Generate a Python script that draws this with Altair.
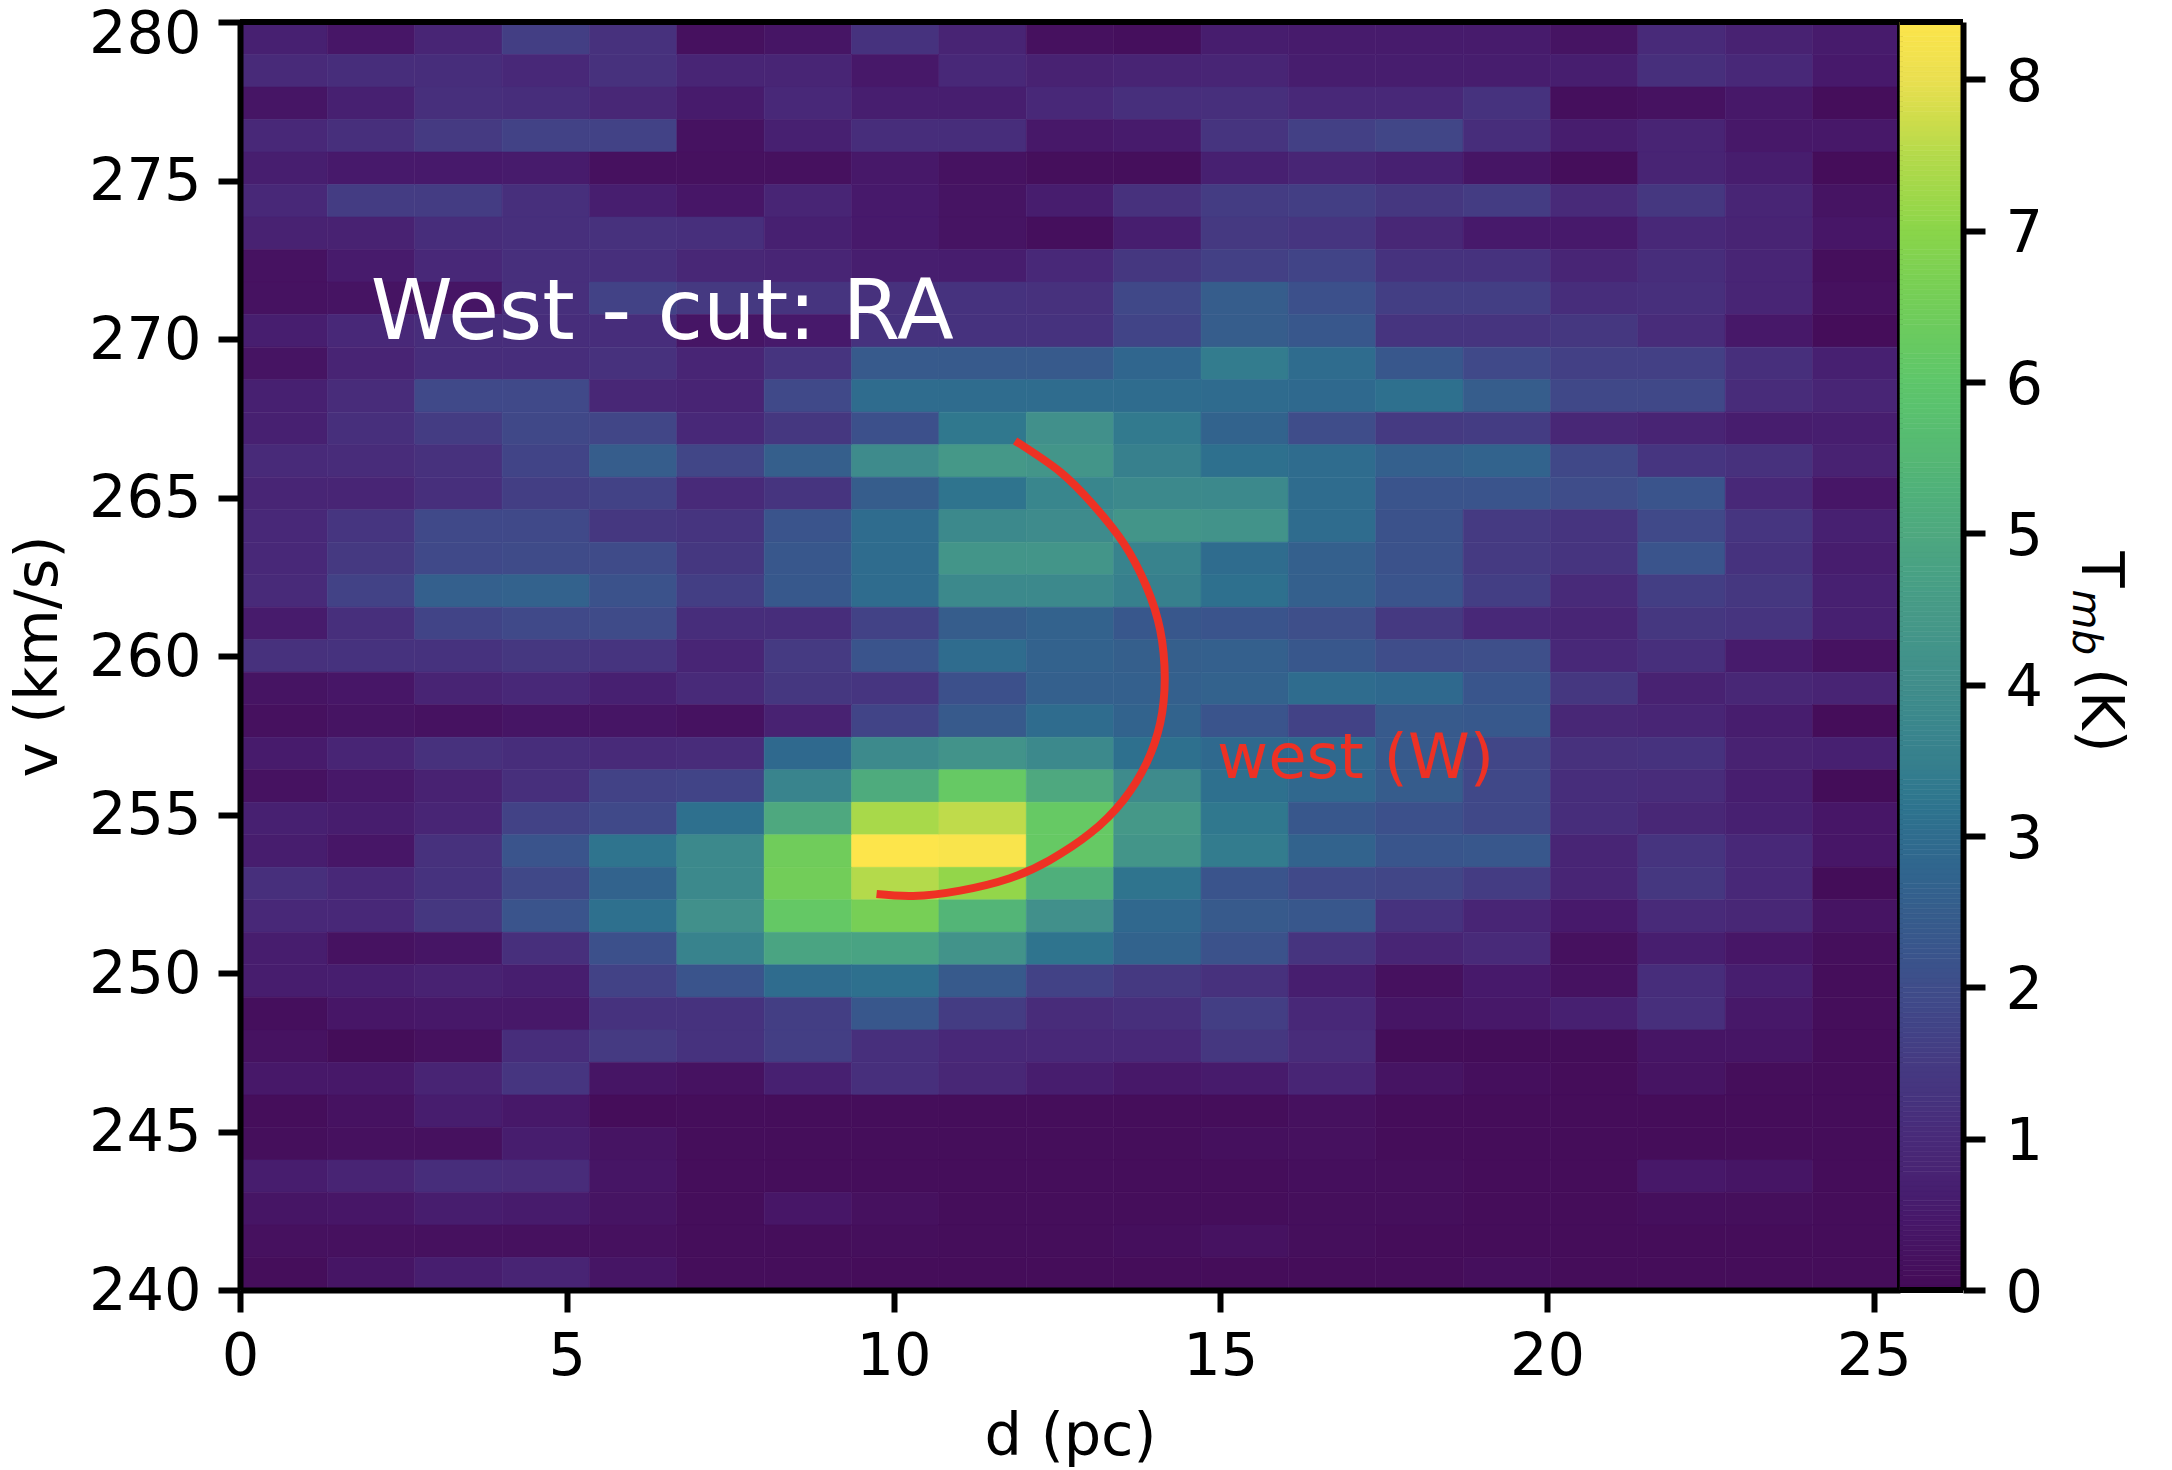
import altair as alt
import pandas as pd

# Tmb (K) per row, top row (v = 280) to bottom (v = 240), 19 cells left to right
r00 = [.7,.4,.85,1.6,1.2,.2,.35,1.25,.8,.2,.15,.6,.55,.55,.55,.3,1.0,.75,.55]
r01 = [1.0,1.1,1.1,.95,1.2,.85,.85,.45,.95,.75,.8,.85,.6,.6,.6,.65,1.15,.95,.5]
r02 = [.35,.7,1.15,1.1,.9,.55,.95,.65,.65,.95,1.15,1.15,.95,.95,1.25,.15,.25,.45,.1]
r03 = [.95,1.15,1.5,1.7,1.7,.25,.7,1.1,1.1,.45,.55,1.3,1.65,1.8,1.1,.6,.8,.45,.45]
r04 = [.65,.5,.5,.55,.2,.2,.2,.45,.25,.12,.12,.7,.85,.7,.35,.1,.8,.6,.08]
r05 = [.95,1.55,1.55,1.15,.65,.4,.85,.5,.3,.6,1.2,1.55,1.6,1.4,1.55,1.0,1.4,.85,.3]
r06 = [.75,.75,1.1,1.15,1.2,1.15,.7,.5,.3,.15,.65,1.45,1.35,.9,.5,.5,.95,.8,.4]
r07 = [.25,.55,.95,1.15,1.15,.9,.85,.65,.6,.95,1.4,1.65,1.75,1.25,1.25,.85,1.1,.85,.12]
r08 = [.25,.3,.35,1.15,1.7,1.45,1.3,1.2,1.25,1.2,1.85,2.5,2.1,1.6,1.6,1.1,1.15,.85,.2]
r09 = [.65,.95,1.1,1.1,1.1,.35,.5,1.25,1.25,1.25,1.75,2.5,2.3,1.3,1.3,1.4,1.05,.45,.08]
r10 = [.3,.8,1.1,1.1,1.2,.85,1.3,2.4,2.4,2.4,2.8,3.4,3.0,2.3,1.9,1.65,1.65,1.15,.7]
r11 = [.7,1.05,1.9,1.9,.9,.8,1.9,3.0,3.0,3.0,3.0,2.95,2.9,3.1,2.5,1.85,1.85,1.05,.85]
r12 = [.7,1.15,1.55,1.85,1.8,.95,1.4,2.1,3.3,4.1,3.35,2.7,2.0,1.5,1.55,.9,.8,.6,.65]
r13 = [1.0,1.05,1.2,1.75,2.5,1.8,2.55,3.9,4.4,4.3,3.5,3.1,3.0,2.6,2.7,1.85,1.35,1.2,.75]
r14 = [.85,.85,1.15,1.6,1.7,1.0,1.3,2.5,3.2,3.7,3.8,3.8,3.0,2.2,2.2,2.0,2.2,.95,.4]
r15 = [.95,1.35,1.9,1.9,1.4,1.3,2.2,3.0,3.8,3.9,4.3,4.2,3.0,2.15,1.5,1.3,1.9,1.35,.7]
r16 = [.95,1.45,1.9,1.95,1.95,1.4,2.3,3.0,4.3,4.3,3.6,3.0,2.6,2.15,1.5,1.3,2.2,1.25,.6]
r17 = [1.0,1.7,2.6,2.65,2.15,1.6,2.35,3.0,3.8,3.8,3.5,3.1,2.6,2.2,1.6,1.0,1.6,1.4,.7]
r18 = [.55,1.15,1.75,1.9,1.95,1.1,1.1,1.7,2.5,2.65,2.3,2.2,2.05,1.45,.95,.85,1.4,1.3,.7]
r19 = [1.2,1.25,1.25,1.4,1.3,.85,1.5,2.2,3.0,2.65,2.55,2.6,2.3,2.0,2.05,.95,1.15,.55,.25]
r20 = [.3,.4,.8,.95,.7,1.0,1.4,1.35,2.1,2.6,2.6,2.65,3.0,2.9,2.25,1.4,.75,.9,.8]
r21 = [.2,.3,.25,.35,.35,.25,.75,1.75,2.4,3.0,2.7,2.2,1.7,2.4,2.35,.9,.85,.6,.08]
r22 = [.55,.85,1.2,1.1,1.0,1.05,2.9,3.85,4.2,3.8,3.1,2.9,2.9,2.4,1.8,1.2,1.25,.75,.7]
r23 = [.25,.45,.75,1.15,1.7,1.75,3.65,5.1,6.2,5.0,3.9,3.1,2.85,2.45,1.85,1.1,1.05,.65,.05]
r24 = [.7,.6,.85,1.7,1.9,3.1,5.0,7.35,7.6,6.2,4.4,3.3,2.3,2.1,1.85,1.1,.9,.7,.4]
r25 = [.6,.4,1.2,2.2,3.2,3.8,6.45,8.38,8.3,6.2,4.3,3.4,2.7,2.25,2.3,.85,1.3,.95,.4]
r26 = [1.15,.95,1.25,1.85,2.7,3.8,6.5,7.5,7.1,5.2,3.2,2.2,1.9,1.8,1.55,.85,1.4,.95,.05]
r27 = [.95,.95,1.4,2.2,3.1,4.1,6.15,6.6,5.4,4.1,2.85,2.4,2.3,1.25,.85,.5,1.0,.9,.3]
r28 = [.6,.25,.35,1.15,2.1,3.6,4.85,4.8,4.2,3.2,2.7,2.15,1.3,.85,1.0,.2,.65,.4,.12]
r29 = [.6,.65,.75,.65,1.7,2.2,3.0,3.1,2.4,1.7,1.45,1.2,.65,.2,.5,.25,1.1,.65,.1]
r30 = [.15,.4,.45,.45,1.25,1.25,1.6,2.3,1.55,1.05,1.15,1.6,.95,.35,.45,.7,1.15,.45,.1]
r31 = [.25,.05,.2,1.1,1.5,1.25,1.6,1.15,.95,.95,.95,1.4,1.05,.05,.05,.05,.35,.35,.08]
r32 = [.45,.45,.8,1.35,.35,.25,.7,1.15,.9,.6,.45,.55,.85,.3,.15,.08,.3,.1,.08]
r33 = [.1,.25,.6,.45,.08,.1,.1,.1,.1,.1,.1,.1,.2,.08,.08,.08,.08,.08,.08]
r34 = [.12,.2,.2,.6,.3,.1,.1,.1,.1,.1,.1,.17,.2,.08,.08,.08,.08,.08,.08]
r35 = [.6,.8,1.1,1.05,.35,.1,.1,.1,.1,.1,.1,.1,.15,.12,.08,.08,.45,.35,.08]
r36 = [.35,.4,.6,.55,.3,.1,.4,.2,.1,.1,.1,.1,.12,.12,.08,.08,.15,.12,.08]
r37 = [.2,.2,.2,.2,.2,.1,.1,.12,.1,.1,.15,.25,.12,.08,.08,.08,.08,.08,.08]
r38 = [.1,.35,.65,.8,.35,.1,.1,.08,.08,.08,.08,.08,.08,.08,.15,.08,.08,.08,.08]
heat_rows = [r00,r01,r02,r03,r04,r05,r06,r07,r08,r09,r10,r11,r12,r13,r14,r15,r16,r17,r18,
             r19,r20,r21,r22,r23,r24,r25,r26,r27,r28,r29,r30,r31,r32,r33,r34,r35,r36,r37,r38]

d_max = 25.4
t_max = 8.38
cell_d = d_max / 19
cell_v = 40 / 39

arc_d = [11.86,12.55,13.06,13.52,13.87,14.08,14.15,14.08,13.87,13.52,13.01,12.39,11.78,11.02,10.30,9.74]
arc_v = [266.79,265.81,264.76,263.56,262.19,260.82,259.30,257.88,256.62,255.46,254.41,253.56,252.99,252.60,252.43,252.49]

x_ticks = [0,5,10,15,20,25]
y_ticks = [240,245,250,255,260,265,270,275,280]
c_ticks = [0,1,2,3,4,5,6,7,8]

# colour ramp as it looks on the reference colour bar
ramp_t = [0,.5,1,1.5,2,2.5,3,3.5,4,4.5,5,5.5,6,6.5,7,7.5,8,8.38]
ramp_c = ["#440b57","#47196b","#482a79","#453a82","#3f4d8a","#365d8c","#2f6c8e","#37808d","#418e8b",
          "#479a87","#4ea87f","#55b874","#5ec66a","#72cd59","#8ad54a","#b4da4b","#eadf50","#fde54b"]

FONT = "DejaVu Sans"
RED = "#EE3124"
FS = 59

cells = []
for i, row in enumerate(heat_rows):
    for j, t in enumerate(row):
        cells.append(dict(d=j*cell_d, d2=(j+1)*cell_d, v=280-i*cell_v, v2=280-(i+1)*cell_v, T=t))
cells = pd.DataFrame(cells)

t_scale = alt.Scale(domain=ramp_t, range=ramp_c)
color = alt.Color("T:Q", scale=t_scale, legend=None)
stroke = alt.Stroke("T:Q", scale=t_scale, legend=None)
x_scale = alt.Scale(domain=[0, d_max], nice=False, zero=False)
y_scale = alt.Scale(domain=[240, 280], nice=False, zero=False)
c_scale = alt.Scale(domain=[0, t_max], nice=False, zero=False)

common = dict(grid=False, domainColor="black", domainWidth=6, tickColor="black", tickWidth=6,
              tickSize=22, labelFontSize=FS, labelFont=FONT, labelColor="black", zindex=1,
              labelFlush=False, labelOverlap=False, format="d")
x_axis = alt.Axis(values=x_ticks, title="d (pc)", labelPadding=15, titleFont=FONT, titleFontSize=FS,
                  titleFontWeight="normal", titleColor="black", titlePadding=21, **common)
y_axis = alt.Axis(values=y_ticks, title="v (km/s)", labelPadding=17, titleFont=FONT, titleFontSize=FS,
                  titleFontWeight="normal", titleColor="black", titlePadding=20,
                  labelOffset=alt.expr("datum.value == 280 ? 12 : 1"), **common)
c_axis = alt.Axis(orient="right", values=c_ticks, title=None, labelPadding=20, labelOffset=3, **common)

def X(f):
    return alt.X(f, scale=x_scale, axis=x_axis)
def Y(f):
    return alt.Y(f, scale=y_scale, axis=y_axis)
def C(f):
    return alt.Y(f, scale=c_scale, axis=c_axis)

heat = alt.Chart(cells).mark_rect(strokeWidth=0.6, clip=True).encode(
    x=X("d:Q"), x2="d2:Q", y=Y("v:Q"), y2="v2:Q", color=color, stroke=stroke)

top_edge = alt.Chart(pd.DataFrame({"v": [280]})).mark_rule(color="black", strokeWidth=6).encode(y=Y("v:Q"))
right_edge = alt.Chart(pd.DataFrame({"d": [d_max]})).mark_rule(color="black", strokeWidth=6).encode(x=X("d:Q"))

arc = alt.Chart(pd.DataFrame({"d": arc_d, "v": arc_v, "k": range(len(arc_d))})).mark_line(
    color=RED, strokeWidth=8, interpolate="natural").encode(x=X("d:Q"), y=Y("v:Q"), order="k:Q")

label_w = alt.Chart(pd.DataFrame({"d": [2.0], "v": [270.0], "s": ["West - cut: RA"]})).mark_text(
    font=FONT, fontSize=83, color="white", align="left", baseline="alphabetic").encode(
    x=X("d:Q"), y=Y("v:Q"), text="s:N")
label_r = alt.Chart(pd.DataFrame({"d": [14.95], "v": [256.15], "s": ["west (W)"]})).mark_text(
    font=FONT, fontSize=62.5, color=RED, align="left", baseline="alphabetic").encode(
    x=X("d:Q"), y=Y("v:Q"), text="s:N")

left = alt.layer(heat, arc, label_w, label_r, top_edge, right_edge).properties(width=1660, height=1268)

# Colour bar
steps = 256
ramp = pd.DataFrame({"T": [t_max*(i+0.5)/steps for i in range(steps)],
                     "a": [t_max*i/steps for i in range(steps)],
                     "b": [t_max*(i+1)/steps for i in range(steps)]})
bar = alt.Chart(ramp).mark_rect(strokeWidth=0.6).encode(
    x=alt.value(0), x2=alt.value(63), y=C("a:Q"), y2="b:Q", color=color, stroke=stroke)
bar_edges = alt.Chart(pd.DataFrame({"v": [0, t_max]})).mark_rule(color="black", strokeWidth=6).encode(y=C("v:Q"))

title_parts = pd.DataFrame({"s": ["T", "mb", "(K)"], "y": [4.88, 4.63, 4.11]})
def part(i, px, size, style):
    return alt.Chart(title_parts.iloc[[i]]).mark_text(
        font=FONT, fontSize=size, fontStyle=style, color="black", angle=90,
        align="left", baseline="alphabetic").encode(
        x=alt.value(px), y=C("y:Q"), text="s:N")

right = alt.layer(bar, bar_edges, part(0, 182, FS, "normal"), part(1, 173, 41, "italic"),
                  part(2, 182, FS, "normal")).properties(width=63, height=1268)

chart = alt.hconcat(left, right, spacing=0, bounds="flush").properties(
    autosize=alt.AutoSizeParams(type="none"),
    padding={"left": 232, "top": 14, "right": 1920, "bottom": 180},
    background="white",
).configure_view(stroke=None)

chart.save("out.html", embed_options={"renderer": "svg", "actions": False})
